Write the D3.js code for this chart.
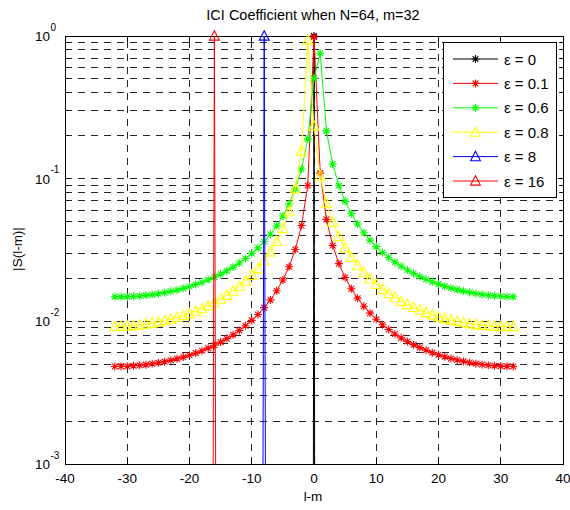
<!DOCTYPE html>
<html><head><meta charset="utf-8">
<script src="https://cdn.jsdelivr.net/npm/d3@7/dist/d3.min.js"></script>
<style>
body{margin:0;background:#fff;}
text{font-family:"Liberation Sans",Arial,Helvetica,sans-serif;fill:#000;}
</style>
</head><body>
<svg id="c" width="570" height="510"></svg>
<script>
// ---------------- data ----------------
const lm = [-32,-31,-30,-29,-28,-27,-26,-25,-24,-23,-22,-21,-20,
            -19,-18,-17,-16,-15,-14,-13,-12,-11,-10,-9,-8,-7,
            -6,-5,-4,-3,-2,-1,0,1,2,3,4,5,6,
            7,8,9,10,11,12,13,14,15,16,17,18,19,
            20,21,22,23,24,25,26,27,28,29,30,31,32];

const sEps0 = [1e-30,1e-30,1e-30,1e-30,1e-30,1e-30,1e-30,1e-30,1e-30,1e-30,1e-30,1e-30,1e-30,
               1e-30,1e-30,1e-30,1e-30,1e-30,1e-30,1e-30,1e-30,1e-30,1e-30,1e-30,1e-30,1e-30,
               1e-30,1e-30,1e-30,1e-30,1e-30,1e-30,1,1e-30,1e-30,1e-30,1e-30,1e-30,1e-30,
               1e-30,1e-30,1e-30,1e-30,1e-30,1e-30,1e-30,1e-30,1e-30,1e-30,1e-30,1e-30,1e-30,
               1e-30,1e-30,1e-30,1e-30,1e-30,1e-30,1e-30,1e-30,1e-30,1e-30,1e-30,1e-30,1e-30];

const sEps01 = [0.004828,0.004833,0.004849,0.004878,0.004918,0.004971,0.005038,0.005119,0.005216,0.005329,0.005461,0.005613,0.005788,
                0.005990,0.006221,0.006488,0.006795,0.007151,0.007566,0.008052,0.008628,0.009316,0.010150,0.011177,0.012470,0.014138,
                0.016369,0.019490,0.024154,0.031853,0.046923,0.089465,0.98364,0.10933,0.05185,0.034033,0.025376,0.020270,0.016907,
                0.014532,0.012769,0.011412,0.010338,0.009469,0.008755,0.008160,0.007657,0.007229,0.006862,0.006546,0.006272,0.006033,
                0.005826,0.005646,0.005489,0.005354,0.005237,0.005137,0.005053,0.004984,0.004928,0.004885,0.004854,0.004835,0.004828];

const sEps06 = [0.014866,0.014863,0.014895,0.014964,0.015069,0.015213,0.015397,0.015625,0.015897,0.016219,0.016596,0.017032,0.017535,
                0.018113,0.018778,0.019542,0.020423,0.021440,0.022622,0.024003,0.025629,0.027562,0.029890,0.032732,0.036268,0.040772,
                0.046681,0.054745,0.066372,0.084530,0.11675,0.18940,0.50462,0.75684,0.21640,0.12643,0.089452,0.069339,0.056722,
                0.048088,0.041823,0.037081,0.033377,0.030412,0.027993,0.025989,0.024306,0.022881,0.021662,0.020614,0.019709,0.018923,
                0.018239,0.017644,0.017126,0.016678,0.016290,0.015957,0.015676,0.015440,0.015247,0.015095,0.014982,0.014906,0.014866];

const sEps08 = [0.009191,0.009220,0.009272,0.009346,0.009445,0.009569,0.009721,0.009901,0.010113,0.010360,0.010645,0.010974,0.011352,
                0.011787,0.012286,0.012863,0.013530,0.014307,0.015217,0.016292,0.017577,0.019132,0.021045,0.023445,0.026535,0.030648,
                0.036375,0.044864,0.058711,0.085211,0.15601,0.93551,0.23393,0.10408,0.067032,0.049523,0.039342,0.032698,0.028032,
                0.024583,0.021938,0.019848,0.018163,0.016778,0.015625,0.014653,0.013826,0.013118,0.012507,0.011978,0.011519,0.011119,
                0.010772,0.010469,0.010207,0.009982,0.009789,0.009627,0.009492,0.009383,0.009299,0.009238,0.009200,0.009185,0.009191];

const sEps8 = [3e-16,3e-16,3e-16,3e-16,3e-16,3e-16,3e-16,3e-16,3e-16,3e-16,3e-16,3e-16,3e-16,
               3e-16,3e-16,3e-16,3e-16,3e-16,3e-16,3e-16,3e-16,3e-16,3e-16,3e-16,1,3e-16,
               3e-16,3e-16,3e-16,3e-16,3e-16,3e-16,3e-16,3e-16,3e-16,3e-16,3e-16,3e-16,3e-16,
               3e-16,3e-16,3e-16,3e-16,3e-16,3e-16,3e-16,3e-16,3e-16,3e-16,3e-16,3e-16,3e-16,
               3e-16,3e-16,3e-16,3e-16,3e-16,3e-16,3e-16,3e-16,3e-16,3e-16,3e-16,3e-16,3e-16];

const sEps16 = [6e-16,6e-16,6e-16,6e-16,6e-16,6e-16,6e-16,6e-16,6e-16,6e-16,6e-16,6e-16,6e-16,
                6e-16,6e-16,6e-16,1,6e-16,6e-16,6e-16,6e-16,6e-16,6e-16,6e-16,6e-16,6e-16,
                6e-16,6e-16,6e-16,6e-16,6e-16,6e-16,6e-16,6e-16,6e-16,6e-16,6e-16,6e-16,6e-16,
                6e-16,6e-16,6e-16,6e-16,6e-16,6e-16,6e-16,6e-16,6e-16,6e-16,6e-16,6e-16,6e-16,
                6e-16,6e-16,6e-16,6e-16,6e-16,6e-16,6e-16,6e-16,6e-16,6e-16,6e-16,6e-16,6e-16];

const legendLabels = ["ε = 0","ε = 0.1","ε = 0.6","ε = 0.8","ε = 8","ε = 16"];
const xTicks = [-40,-30,-20,-10,0,10,20,30,40];
const yTickExps = [-3,-2,-1,0];
const titleText = "ICI Coefficient when N=64, m=32";
const xLabel = "l-m";
const yLabel = "|S(l-m)|";

// ---------------- styles ----------------
const seriesValues = [sEps0, sEps01, sEps06, sEps08, sEps8, sEps16];
const seriesColors = ["#000000","#ff0000","#00ff00","#ffff00","#0000ff","#ff0000"];
const seriesMarkers = ["star","star","star","tri","tri","tri"];

const L = 65, R = 563, T = 36, B = 464;

const svg = d3.select("#c");
const x = d3.scaleLinear().domain([-40,40]).range([L,R]);
const y = d3.scaleLog().domain([1e-3,1]).range([B,T]);

// grid
const gGrid = svg.append("g").attr("stroke","#000").attr("stroke-width",1)
  .attr("stroke-dasharray","7,6").attr("shape-rendering","crispEdges").attr("opacity",0.85);
xTicks.slice(1,-1).forEach(t=>{
  gGrid.append("line").attr("x1",x(t)).attr("x2",x(t)).attr("y1",B).attr("y2",T);
});
const minorVals = [];
yTickExps.slice(0,-1).forEach(e=>{
  for(let m=1;m<=9;m++){ minorVals.push(m*Math.pow(10,e)); }
});
minorVals.forEach(v=>{
  if (v===1e-3) return;
  gGrid.append("line").attr("x1",L).attr("x2",R).attr("y1",y(v)).attr("y2",y(v));
});

// axes box + ticks
const gAx = svg.append("g").attr("stroke","#000").attr("stroke-width",1).attr("shape-rendering","crispEdges");
gAx.append("rect").attr("x",L).attr("y",T).attr("width",R-L).attr("height",B-T).attr("fill","none");
xTicks.forEach(t=>{
  gAx.append("line").attr("x1",x(t)).attr("x2",x(t)).attr("y1",B).attr("y2",B-5);
  gAx.append("line").attr("x1",x(t)).attr("x2",x(t)).attr("y1",T).attr("y2",T+5);
});
yTickExps.forEach(e=>{
  const v = Math.pow(10,e);
  gAx.append("line").attr("x1",L).attr("x2",L+5).attr("y1",y(v)).attr("y2",y(v));
  gAx.append("line").attr("x1",R).attr("x2",R-5).attr("y1",y(v)).attr("y2",y(v));
});
minorVals.forEach(v=>{
  gAx.append("line").attr("x1",L).attr("x2",L+3).attr("y1",y(v)).attr("y2",y(v));
  gAx.append("line").attr("x1",R).attr("x2",R-3).attr("y1",y(v)).attr("y2",y(v));
});

// tick labels
xTicks.forEach(t=>{
  svg.append("text").attr("x",x(t)).attr("y",483).attr("text-anchor","middle")
    .attr("font-size","13.5px").text(t);
});
yTickExps.forEach(e=>{
  const v = Math.pow(10,e);
  svg.append("text").attr("x",50).attr("y",y(v)+5).attr("text-anchor","end")
    .attr("font-size","13.5px").text("10");
  svg.append("text").attr("x",50.5).attr("y",y(v)-5.5).attr("text-anchor","start")
    .attr("font-size","10px").text(e);
});

// labels
svg.append("text").attr("x",313).attr("y",20).attr("text-anchor","middle")
  .attr("font-size","14.5px").text(titleText);
svg.append("text").attr("x",313).attr("y",501).attr("text-anchor","middle")
  .attr("font-size","13.5px").text(xLabel);
svg.append("text").attr("transform","translate(22,249) rotate(-90)").attr("text-anchor","middle")
  .attr("font-size","13.5px").text(yLabel);

// markers
function markerPath(type){
  if(type==="star"){
    const r=4, d=2.9;
    return `M${-r},0H${r}M0,${-r}V${r}M${-d},${-d}L${d},${d}M${-d},${d}L${d},${-d}`;
  }
  return "M0,-5.3L4.9,4.1L-4.9,4.1Z";
}

// clip
svg.append("clipPath").attr("id","pc").append("rect")
  .attr("x",L).attr("y",T).attr("width",R-L).attr("height",B-T);

const line = d3.line().x(d=>x(d[0])).y(d=>y(d[1]));
seriesValues.forEach((vals,i)=>{
  const pts = lm.map((k,j)=>[k,vals[j]]);
  const g = svg.append("g");
  g.append("path").attr("d",line(pts)).attr("fill","none")
    .attr("stroke",seriesColors[i]).attr("stroke-width",1).attr("clip-path","url(#pc)");
  g.selectAll("path.m").data(pts.filter(p=>p[1]>=1e-3 && p[1]<=1)).enter()
    .append("path").attr("class","m")
    .attr("transform",p=>`translate(${x(p[0])},${y(p[1])})`)
    .attr("d",markerPath(seriesMarkers[i]))
    .attr("fill","none").attr("stroke",seriesColors[i]).attr("stroke-width",1.1);
});

// legend
const lg = svg.append("g");
lg.append("rect").attr("x",443.5).attr("y",42.5).attr("width",113).attr("height",155)
  .attr("fill","#fff").attr("stroke","#000").attr("stroke-width",1);
legendLabels.forEach((lab,i)=>{
  const cy = 59 + i*24.4;
  lg.append("line").attr("x1",453).attr("x2",498).attr("y1",cy).attr("y2",cy)
    .attr("stroke",seriesColors[i]).attr("stroke-width",1);
  lg.append("path").attr("transform",`translate(475.5,${cy})`).attr("d",markerPath(seriesMarkers[i]))
    .attr("fill","none").attr("stroke",seriesColors[i]).attr("stroke-width",1.1);
  lg.append("text").attr("x",504).attr("y",cy+5.5).attr("font-size","15px").text(lab);
});
</script>
</body></html>
